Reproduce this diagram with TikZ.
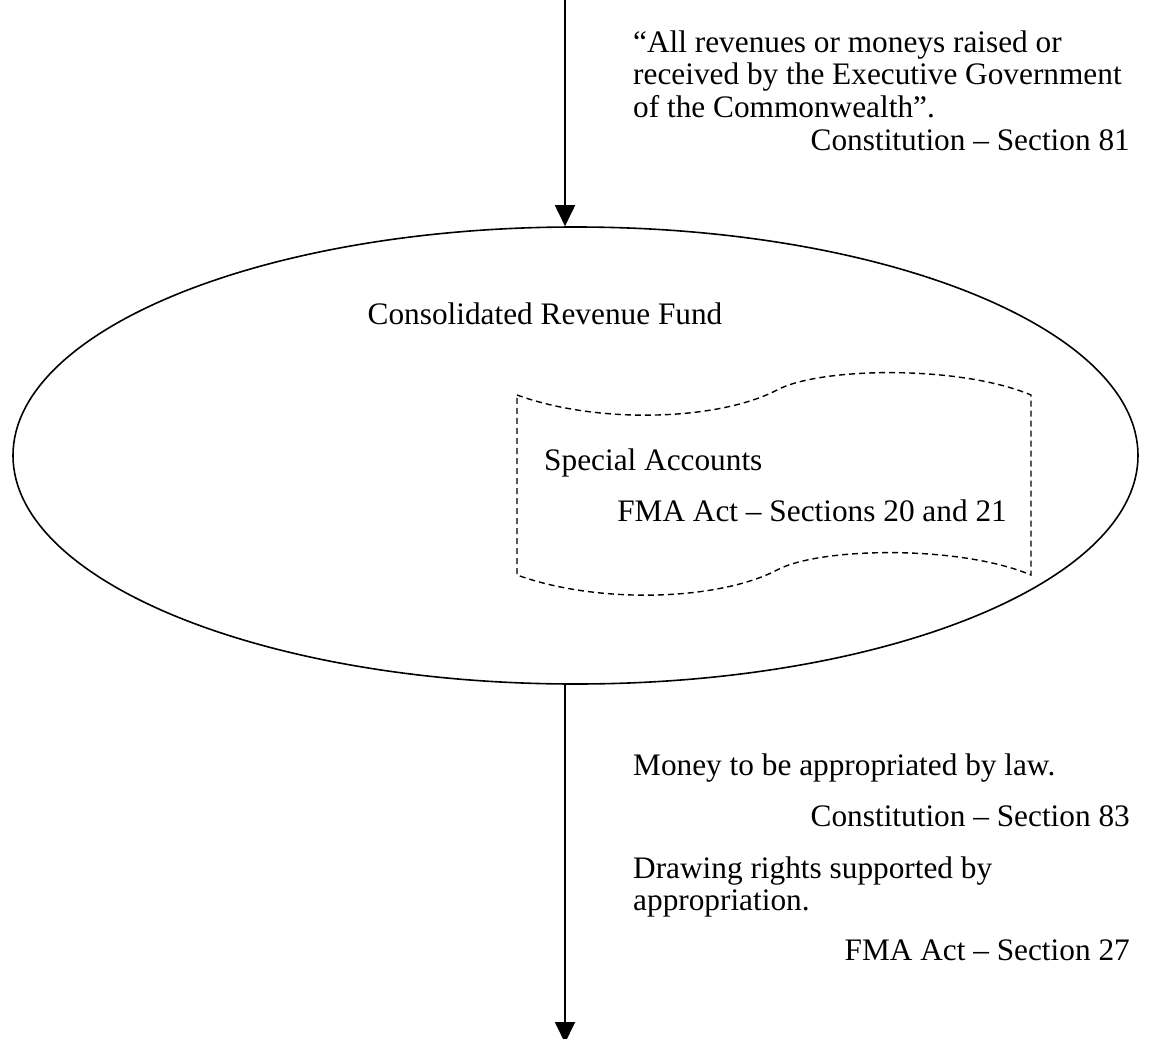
\documentclass[tikz,border=0pt]{standalone}
\usepackage{fontspec}
\setmainfont{Liberation Serif}
\usetikzlibrary{arrows.meta,shapes.geometric}
\tikzset{
  txt/.style={inner sep=0pt, font=\fontsize{31.3}{32.5}\selectfont, align=left},
  flow/.style={line width=1.8pt, -{Triangle[length=21pt,width=20pt]}},
  fund/.style={draw, ellipse, line width=1.6pt, minimum width=1125pt, minimum height=457pt, inner sep=0pt},
  tape/.style={draw, dashed, dash pattern=on 6pt off 4pt, line width=1.4pt}
}
\begin{document}
\begin{tikzpicture}[x=1pt,y=-1pt]
\useasboundingbox (0,0) rectangle (1152,1039);
% main fund ellipse
\node[fund] (crf) at (575.5,455.5) {};
\node[txt, anchor=base] (crflabel) at (545,324) {Consolidated Revenue Fund};
% special accounts tape shape
\draw[tape] (517,395) .. controls (600,425) and (720,420) .. (777,390)
  .. controls (820,367) and (960,365) .. (1031,395)
  -- (1031,575)
  .. controls (960,545) and (820,547) .. (777,570)
  .. controls (720,600) and (600,605) .. (517,575) -- cycle;
\node[txt, anchor=base west] (sa) at (544,470) {Special Accounts};
\node[txt, anchor=base east] (saref) at (1007,521) {FMA Act -- Sections 20 and 21};
% flows
\coordinate (src) at (565,0);
\coordinate (dst) at (565,1043);
\draw[flow] (src) -- (src |- crf.north);
\draw[flow] (crf.south -| dst) -- (dst);
% top texts
\node[txt, anchor=base west] (inflow) at (633,117) {“All revenues or moneys raised or\\received by the Executive Government\\of the Commonwealth”.};
\node[txt, anchor=base east] (s81) at (1130,150) {Constitution -- Section 81};
% bottom texts
\node[txt, anchor=base west] (approp) at (633,775) {Money to be appropriated by law.};
\node[txt, anchor=base east] (s83) at (1130,826) {Constitution -- Section 83};
\node[txt, anchor=base west] (draw) at (633,910.5) {Drawing rights supported by\\appropriation.};
\node[txt, anchor=base east] (s27) at (1130,960) {FMA Act -- Section 27};
\end{tikzpicture}
\end{document}
